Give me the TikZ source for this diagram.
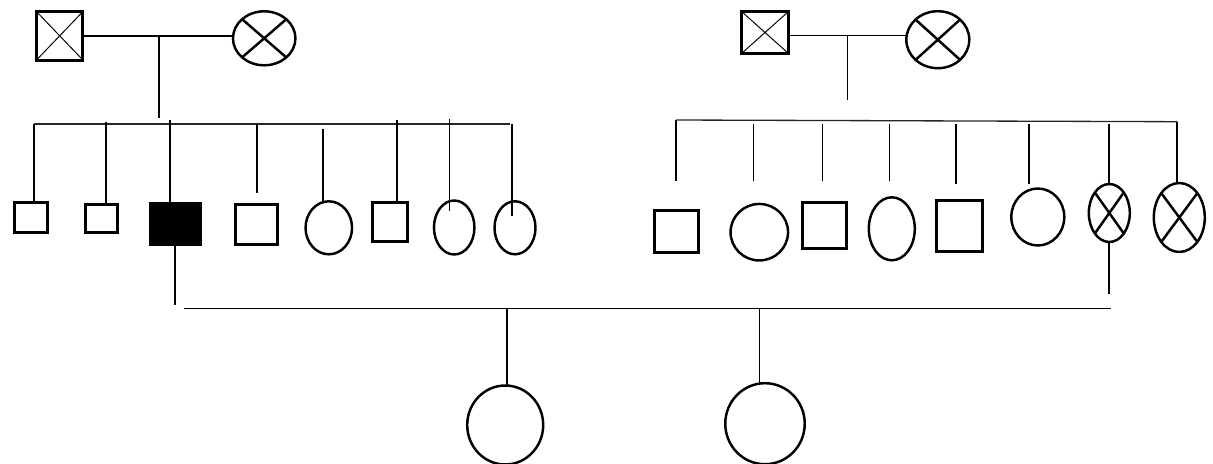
\documentclass[tikz,border=0pt]{standalone}
\usetikzlibrary{shapes.geometric}

\begin{document}
\begin{tikzpicture}[x=0.02cm,y=-0.02cm,
                    male/.style={rectangle,draw,line width=1.7pt,inner sep=0pt,outer sep=0pt},
                    female/.style={ellipse,draw,line width=1.4pt,inner sep=0pt,outer sep=0pt},
                    affected/.style={fill=black},
                    crossed/.style={path picture={\draw[line width=#1]
                      (path picture bounding box.north west) -- (path picture bounding box.south east)
                      (path picture bounding box.north east) -- (path picture bounding box.south west);}},
                    crossed/.default=0.55pt,
                    line/.style={line width=0.65pt},
                    sib/.style={line width=0.75pt,black!85}]

  \path[use as bounding box,fill=white] (0,0) rectangle (1213,463);

  % grandparents
  \node[male,crossed,minimum width=0.93cm,minimum height=0.97cm] (1) at (59.7,35.8) {};
  \node[female,crossed=1.4pt,minimum width=1.25cm,minimum height=1.08cm] (2) at (264.2,38.3) {};
  \node[male,crossed,minimum width=0.94cm,minimum height=0.84cm] (3) at (765,32.5) {};
  \node[female,crossed=1.4pt,minimum width=1.26cm,minimum height=1.14cm] (4) at (937.8,39.7) {};

  % children, left family
  \node[male,minimum width=0.67cm,minimum height=0.60cm] (a1) at (31,217.5) {};
  \node[male,minimum width=0.63cm,minimum height=0.56cm] (a2) at (101.3,218.5) {};
  \node[male,affected,minimum width=1.00cm,minimum height=0.82cm] (a3) at (175.5,224) {};
  \node[male,minimum width=0.83cm,minimum height=0.80cm] (a4) at (256.3,224.5) {};
  \node[female,minimum width=0.93cm,minimum height=1.06cm] (a5) at (328.8,227.8) {};
  \node[male,minimum width=0.70cm,minimum height=0.78cm] (a6) at (389.7,221.7) {};
  \node[female,minimum width=0.81cm,minimum height=1.08cm] (a7) at (454.2,227.5) {};
  \node[female,minimum width=0.82cm,minimum height=1.06cm] (a8) at (515,227.8) {};

  % children, right family
  \node[male,minimum width=0.89cm,minimum height=0.83cm] (b1) at (676.3,231.7) {};
  \node[female,minimum width=1.15cm,minimum height=1.13cm] (b2) at (759.3,232.2) {};
  \node[male,minimum width=0.89cm,minimum height=0.92cm] (b3) at (824.7,225.5) {};
  \node[female,minimum width=0.92cm,minimum height=1.26cm] (b4) at (891.8,228.8) {};
  \node[male,minimum width=0.92cm,minimum height=1.01cm] (b5) at (959.5,226) {};
  \node[female,minimum width=1.06cm,minimum height=1.14cm] (b6) at (1037.8,217) {};
  \node[female,crossed=1.4pt,minimum width=0.82cm,minimum height=1.16cm] (b7) at (1109.3,213) {};
  \node[female,crossed=1.4pt,minimum width=1.02cm,minimum height=1.38cm] (b8) at (1179.3,217.5) {};

  % grandchildren
  \node[female,minimum width=1.52cm,minimum height=1.58cm] (c1) at (505.2,425) {};
  \node[female,minimum width=1.59cm,minimum height=1.62cm] (c2) at (765,423.7) {};

  % marriage and descent lines
  \coordinate (m1) at (159,36);
  \coordinate (d1) at (159,118);
  \coordinate (m2) at (847.7,35.7);
  \coordinate (d2) at (847.7,100);
  \draw[line] (1.east |- m1) -- (2.west |- m1) (m1) -- (d1);
  \draw[line] (3.east |- m2) -- (4.west |- m2) (m2) -- (d2);

  % sibship lines
  \coordinate (s1) at (34,124);
  \coordinate (s2) at (510,124);
  \coordinate (s3) at (676,120);
  \coordinate (s4) at (1177.3,121.7);
  \draw[sib] (s1) -- (s2);
  \draw[sib] (s3) -- (s4);

  % drop lines that reach the symbol
  \foreach \n/\x/\y in {a1/34/124,a2/106/122,a3/170/120,a5/323/129,a6/397/120,
                        b7/1109/124,b8/1177/121.7} {
    \coordinate (t\n) at (\x,\y);
    \draw[line] (t\n) -- (t\n |- \n.north);
  }

  % drop lines with a free end
  \foreach \n/\x/\y/\z in {a4/257/124/192.7,a7/449.3/119/210.7,a8/512/124/216,
                           b1/676/120/180.7,b2/753.7/124/180.7,b3/822.3/124/180.7,
                           b4/889.3/124/180.7,b5/956/124/184,b6/1029/124/184} {
    \coordinate (t\n) at (\x,\y);
    \coordinate (u\n) at (\x,\z);
    \draw[line] (t\n) -- (u\n);
  }

  % marriage of a3 and b7
  \coordinate (e1) at (175,305);
  \coordinate (e2) at (1109,294);
  \coordinate (m3) at (184.3,308.3);
  \coordinate (m4) at (1110.7,308.3);
  \draw[line] (a3.south -| e1) -- (e1);
  \draw[line] (b7.south -| e2) -- (e2);
  \draw[line width=0.8pt] (m3) -- (m4);

  \coordinate (k1) at (507,308.3);
  \coordinate (k2) at (759.3,308.3);
  \draw[line] (k1) -- (k1 |- c1.north);
  \draw[line] (k2) -- (k2 |- c2.north);
\end{tikzpicture}
\end{document}
